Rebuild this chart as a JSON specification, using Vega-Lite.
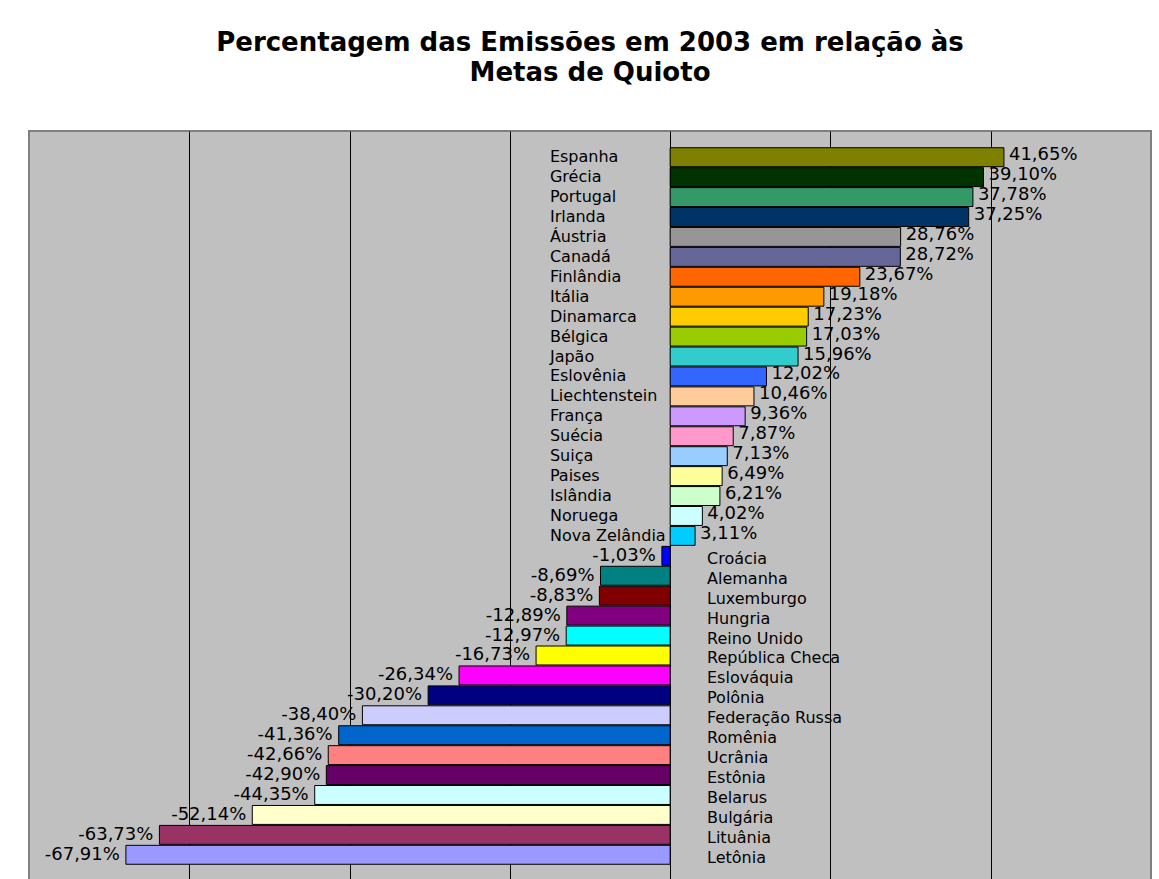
{
  "$schema": "https://vega.github.io/schema/vega-lite/v6.json",
  "autosize": {"type": "none"},
  "padding": {"left": 29, "top": 131, "right": 8, "bottom": 0},
  "width": 1122,
  "height": 750,
  "background": "white",
  "config": {
    "locale": {"number": {"decimal": ",", "thousands": ".", "grouping": [3], "currency": ["", ""], "minus": "-", "percent": "%"}},
    "view": {"fill": "#C0C0C0", "stroke": "#808080", "strokeWidth": 2},
    "text": {"font": "DejaVu Sans", "color": "black"}
  },
  "title": {
    "text": ["Percentagem das Emissões em 2003 em relação às", "Metas de Quioto"],
    "font": "DejaVu Sans",
    "fontSize": 26,
    "fontWeight": "bold",
    "color": "black",
    "anchor": "middle",
    "frame": "group",
    "offset": 45,
    "lineHeight": 30
  },
  "data": {"values": [
    {"pais": "Espanha", "v": 0.4165},
    {"pais": "Grécia", "v": 0.3910},
    {"pais": "Portugal", "v": 0.3778},
    {"pais": "Irlanda", "v": 0.3725},
    {"pais": "Áustria", "v": 0.2876},
    {"pais": "Canadá", "v": 0.2872},
    {"pais": "Finlândia", "v": 0.2367},
    {"pais": "Itália", "v": 0.1918},
    {"pais": "Dinamarca", "v": 0.1723},
    {"pais": "Bélgica", "v": 0.1703},
    {"pais": "Japão", "v": 0.1596},
    {"pais": "Eslovênia", "v": 0.1202},
    {"pais": "Liechtenstein", "v": 0.1046},
    {"pais": "França", "v": 0.0936},
    {"pais": "Suécia", "v": 0.0787},
    {"pais": "Suiça", "v": 0.0713},
    {"pais": "Paises", "v": 0.0649},
    {"pais": "Islândia", "v": 0.0621},
    {"pais": "Noruega", "v": 0.0402},
    {"pais": "Nova Zelândia", "v": 0.0311},
    {"pais": "Croácia", "v": -0.0103},
    {"pais": "Alemanha", "v": -0.0869},
    {"pais": "Luxemburgo", "v": -0.0883},
    {"pais": "Hungria", "v": -0.1289},
    {"pais": "Reino Unido", "v": -0.1297},
    {"pais": "República Checa", "v": -0.1673},
    {"pais": "Eslováquia", "v": -0.2634},
    {"pais": "Polônia", "v": -0.3020},
    {"pais": "Federação Russa", "v": -0.3840},
    {"pais": "Romênia", "v": -0.4136},
    {"pais": "Ucrânia", "v": -0.4266},
    {"pais": "Estônia", "v": -0.4290},
    {"pais": "Belarus", "v": -0.4435},
    {"pais": "Bulgária", "v": -0.5214},
    {"pais": "Lituânia", "v": -0.6373},
    {"pais": "Letônia", "v": -0.6791}
  ]},
  "encoding": {
    "y": {"field": "pais", "type": "nominal", "sort": null, "axis": null,
          "scale": {"paddingInner": 0.05, "paddingOuter": 0.84}}
  },
  "layer": [
    {
      "mark": {"type": "bar", "stroke": "black", "strokeWidth": 1},
      "encoding": {
        "x": {"field": "v", "type": "quantitative",
              "scale": {"domain": [-0.8, 0.6], "nice": false, "zero": false},
              "axis": {"values": [-0.6, -0.4, -0.2, 0, 0.2, 0.4], "grid": true, "gridColor": "black", "gridOpacity": 1, "gridWidth": 1,
                       "labels": false, "ticks": false, "domain": false, "title": null}},
        "color": {"field": "pais", "type": "nominal", "legend": null,
                  "scale": {"domain": ["Espanha","Grécia","Portugal","Irlanda","Áustria","Canadá","Finlândia","Itália","Dinamarca","Bélgica","Japão","Eslovênia","Liechtenstein","França","Suécia","Suiça","Paises","Islândia","Noruega","Nova Zelândia","Croácia","Alemanha","Luxemburgo","Hungria","Reino Unido","República Checa","Eslováquia","Polônia","Federação Russa","Romênia","Ucrânia","Estônia","Belarus","Bulgária","Lituânia","Letônia"],
                            "range": ["#808000","#003300","#339966","#003366","#969696","#666699","#FF6600","#FF9900","#FFCC00","#99CC00","#33CCCC","#3366FF","#FFCC99","#CC99FF","#FF99CC","#99CCFF","#FFFF99","#CCFFCC","#CCFFFF","#00CCFF","#0000FF","#008080","#800000","#800080","#00FFFF","#FFFF00","#FF00FF","#000080","#CCCCFF","#0066CC","#FF8080","#660066","#CCFFFF","#FFFFCC","#993366","#9999FF"]}}
      }
    },
    {
      "transform": [{"filter": "datum.v > 0"}],
      "mark": {"type": "text", "align": "left", "baseline": "middle", "dx": 5, "dy": -2, "fontSize": 18},
      "encoding": {
        "x": {"field": "v", "type": "quantitative"},
        "text": {"field": "v", "type": "quantitative", "format": ".2%"}
      }
    },
    {
      "transform": [{"filter": "datum.v < 0"}],
      "mark": {"type": "text", "align": "right", "baseline": "middle", "dx": -6, "dy": 0, "fontSize": 18},
      "encoding": {
        "x": {"field": "v", "type": "quantitative"},
        "text": {"field": "v", "type": "quantitative", "format": ".2%"}
      }
    },
    {
      "transform": [{"filter": "datum.v > 0"}],
      "mark": {"type": "text", "align": "left", "baseline": "middle", "dy": 0, "fontSize": 16},
      "encoding": {
        "x": {"datum": -0.15},
        "text": {"field": "pais", "type": "nominal"}
      }
    },
    {
      "transform": [{"filter": "datum.v < 0"}],
      "mark": {"type": "text", "align": "left", "baseline": "middle", "dy": 3, "fontSize": 16},
      "encoding": {
        "x": {"datum": 0.046},
        "text": {"field": "pais", "type": "nominal"}
      }
    }
  ]
}
